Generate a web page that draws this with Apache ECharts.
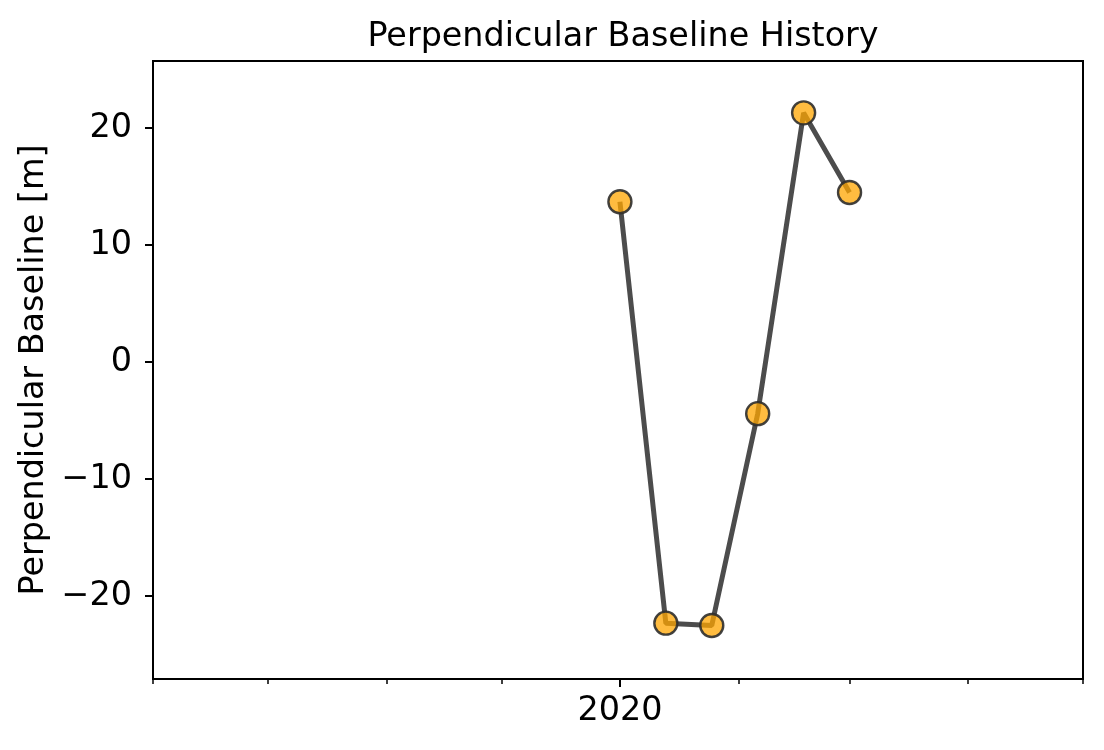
<!DOCTYPE html>
<html>
<head>
<meta charset="utf-8">
<script src="https://cdn.jsdelivr.net/npm/echarts@6/dist/echarts.min.js"></script>
<style>
html,body{margin:0;padding:0;background:#fff;}
#c{width:1104px;height:750px;}
</style>
</head>
<body>
<div id="c"></div>
<script>
// Data
const acquisitionDates = ['2020-01-01','2020-01-13','2020-01-25','2020-02-06','2020-02-18','2020-03-01'];
const perpBaseline = [13.7, -22.3, -22.5, -4.4, 21.3, 14.5];
const monthTicks = ['2019-09-01','2019-10-01','2019-11-01','2019-12-01','2020-01-01','2020-02-01','2020-03-01','2020-04-01','2020-05-01'];
const yearTicks = ['2020-01-01'];
const yTicks = [-20, -10, 0, 10, 20];
const xRange = ['2019-09-01', '2020-05-01'];
const yRange = [-27.07, 25.73];

const t = s => new Date(s + 'T00:00:00').getTime();
const FONT = 'DejaVu Sans';
const FS = 33.4;

const chart = echarts.init(document.getElementById('c'), null, {renderer: 'canvas'});
const xBase = {
  type: 'value', min: t(xRange[0]), max: t(xRange[1]), position: 'bottom',
  axisLine: {show: true, onZero: false, lineStyle: {color: '#000', width: 2}},
  splitLine: {show: false}
};
chart.setOption({
  animation: false,
  backgroundColor: '#fff',
  title: {
    text: 'Perpendicular Baseline History', left: 618, top: 16, textAlign: 'center',
    textStyle: {fontFamily: FONT, fontSize: FS, fontWeight: 'normal', color: '#000'}
  },
  grid: {left: 153, right: 21, top: 61, bottom: 71, show: true, borderColor: '#000', borderWidth: 2,
    backgroundColor: 'transparent', containLabel: false, outerBoundsMode: 'none'},
  xAxis: [
    Object.assign({}, xBase, {
      axisTick: {show: true, inside: false, length: 5, lineStyle: {color: '#000', width: 1.5}, customValues: monthTicks.map(t)},
      axisLabel: {show: false}
    }),
    Object.assign({}, xBase, {
      axisTick: {show: true, inside: false, length: 8, lineStyle: {color: '#000', width: 2}, customValues: yearTicks.map(t)},
      axisLabel: {show: true, customValues: yearTicks.map(t), margin: 16,
        formatter: v => String(new Date(v).getFullYear()),
        fontFamily: FONT, fontSize: FS, color: '#000'}
    })
  ],
  yAxis: {
    type: 'value', min: yRange[0], max: yRange[1],
    name: 'Perpendicular Baseline [m]', nameLocation: 'middle', nameGap: 102,
    nameTextStyle: {fontFamily: FONT, fontSize: FS, color: '#000'},
    axisLine: {show: true, onZero: false, lineStyle: {color: '#000', width: 2}},
    axisTick: {show: true, inside: false, length: 8, lineStyle: {color: '#000', width: 2}, customValues: yTicks},
    axisLabel: {show: true, customValues: yTicks, margin: 21,
      formatter: v => String(v).replace('-', '\u2212'),
      fontFamily: FONT, fontSize: FS, color: '#000'},
    splitLine: {show: false}
  },
  series: [{
    type: 'line', xAxisIndex: 0,
    data: acquisitionDates.map((d, i) => [t(d), perpBaseline[i]]),
    lineStyle: {color: 'rgba(51,51,51,0.88)', width: 5},
    symbol: 'circle', symbolSize: 23,
    itemStyle: {color: 'rgba(255,165,0,0.75)', borderColor: 'rgba(45,45,45,0.9)', borderWidth: 2.4},
    emphasis: {disabled: true}
  }]
});
</script>
</body>
</html>
